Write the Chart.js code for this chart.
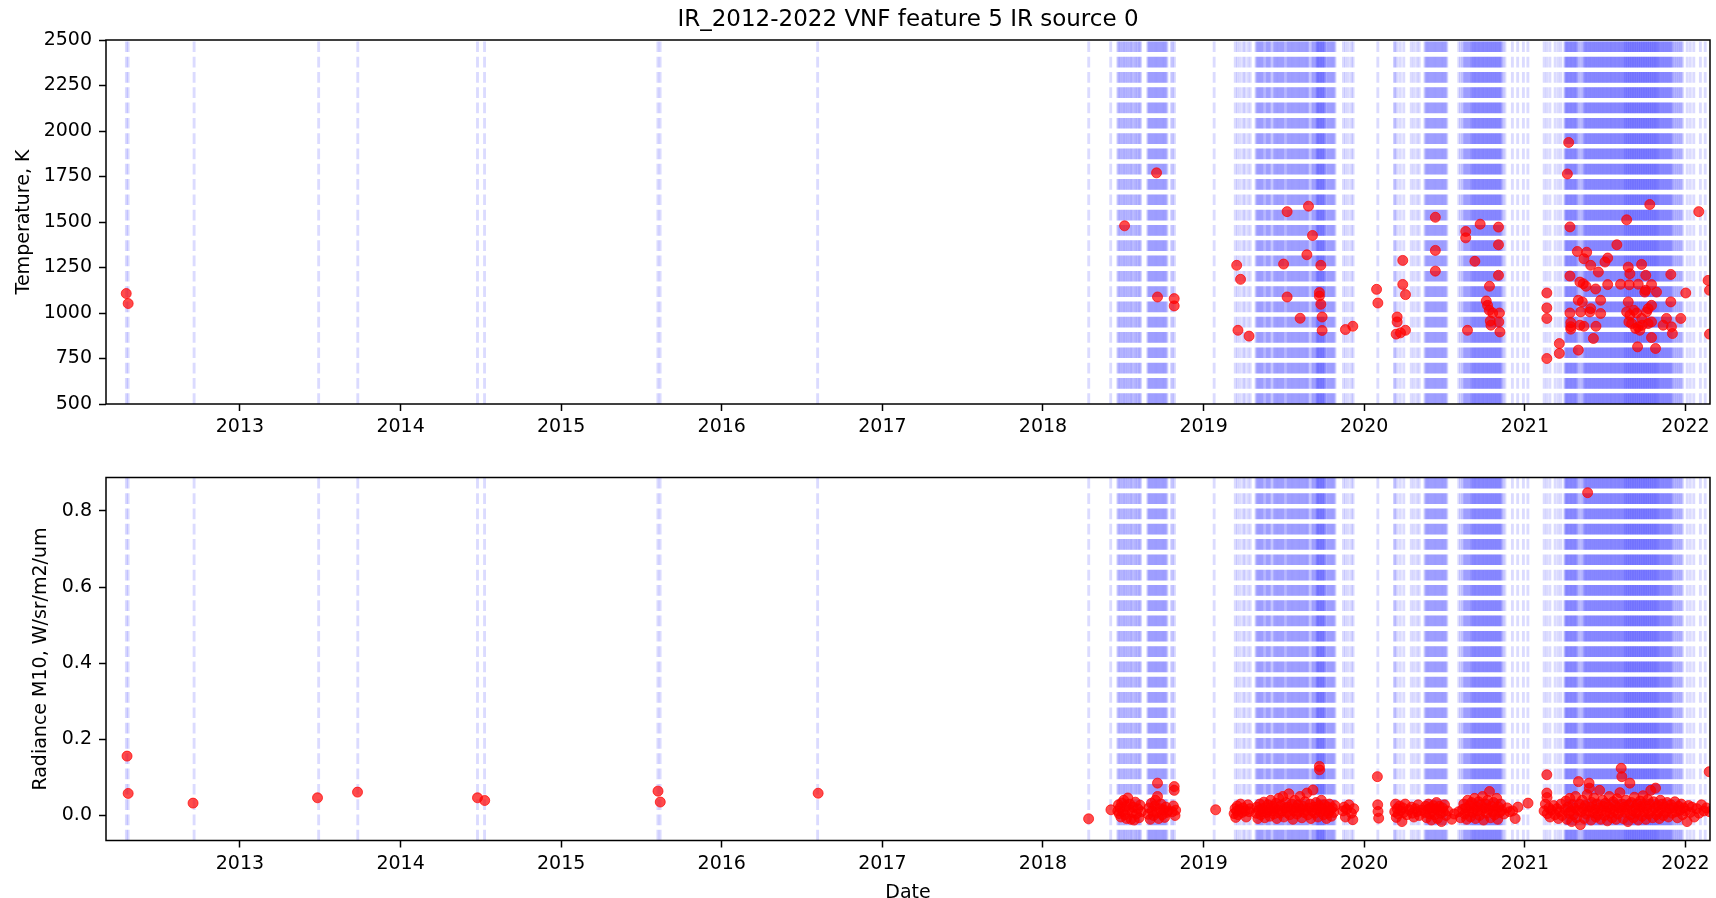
<!DOCTYPE html>
<html><head><meta charset="utf-8">
<script src="https://cdn.jsdelivr.net/npm/chart.js@4.4.0/dist/chart.umd.min.js"></script>
<style>
html,body{margin:0;padding:0;background:#fff;overflow:hidden;}
#wrap{position:relative;width:1716px;height:898px;background:#fff;}
canvas{position:absolute;left:0;}
#c1{top:0;} #c2{top:449px;}
</style></head><body>
<div id="wrap">
<canvas id="c1" width="1716" height="449" style="width:1716px;height:449px"></canvas>
<canvas id="c2" width="1716" height="449" style="width:1716px;height:449px"></canvas>
</div>
<script>
// ---------- tick labels ----------
const yearTicks = [2013, 2014, 2015, 2016, 2017, 2018, 2019, 2020, 2021, 2022];
const tempTicks = [500, 750, 1000, 1250, 1500, 1750, 2000, 2250, 2500];
const radTicks = [0.0, 0.2, 0.4, 0.6, 0.8];
const chartTitle = 'IR_2012-2022 VNF feature 5 IR source 0';

// ---------- observation dates (day of year) drawn as dashed vertical lines ----------
const obsDays2012 = [107, 111, 261];
const obsDays2013 = [179, 268];
const obsDays2014 = [175, 191];
const obsDays2015 = [220, 225];
const obsDays2016 = [218];
const obsDays2018 = [104, 154, 170,172,175,177,180,183,185,188,191,193,196,199,201,204,207,210,212,215,218,220,222,
  238,240,242,244,246,248,250,252,254,256,258,260,262,264,266,268,270,272,274,276,278,280,282, 292,295,299];
const obsDays2019 = [24, 72,77,83,90,94,101,106,
  119,121,123,125,127,129,131,133,135,137,141,143,145,147,149,151,153,158,160,162,164,166,168,170,172,174,176,178,180,182,184,
  188,190,192,194,196,198,200,202,204,206,208,210,212,214,216,218,220,222,224,226,228,230,232,234,236,238,240,
  245,247,249,251,253,255,257,258,259,260,261,263,264,265,266,268,269,270,271,273,274,275,276,
  279,281,283,285,287,289,291,293,295,297,299, 318,323,329,336,340];
const obsDays2020 = [31, 69,70,75,82,90, 107,113,120,125,
  138,140,142,144,146,148,150,152,154,156,158,160,162,164,166,168,170,172,174,176,178,180,182,184,186,188,
  215,219,223, 226,228,230,232,234,236,238,240,242,244,
  245,247,248,250,251,253,254,256,257,259,260,262,263,265,266,268,269,271,272,274,275,277,278,280,281,283,284,286,287,289,290,
  292,293,295,296,298,299,301,302,304,305,307,308,310,311,313, 316,320, 337,349,362];
const obsDays2021 = [7, 44,50,57,69,76,82,
  91,92,94,95,97,98,100,101,103,104,106,107,109,110,112,113,115,116,118,119,122,125,128,131,
  134,135,137,138,140,141,143,144,146,147,149,150,152,153,155,156,158,159,161,162,164,165,167,168,170,171,173,174,176,177,
  179,180,182,183,185,186,188,189,191,192,194,195,197,198,200,201,203,204,206,207,209,210,212,213,215,216,218,219,221,222,224,225,
  227,228,229,230,232,233,234,235,237,238,239,240,242,243,244,245,247,248,249,250,252,253,254,255,257,258,259,260,
  262,263,264,265,267,268,269,270,272,273,274,275,277,278,279,280,282,283,284,285,287,288,289,290,292,293,294,295,
  297,298,299,300,302,303,
  304,306,307,309,310,312,313,315,316,318,319,321,322,324,325,327,328,330,331,333,334,336,339,341,344,346,349,351,354,356,359];
const obsDays2022 = [4, 11, 19, 34, 45];
const obsTable = [[2012, obsDays2012], [2013, obsDays2013], [2014, obsDays2014], [2015, obsDays2015],
  [2016, obsDays2016], [2018, obsDays2018], [2019, obsDays2019], [2020, obsDays2020], [2021, obsDays2021], [2022, obsDays2022]];
const obsDates = [];
obsTable.forEach(([yr, days]) => days.forEach(d => obsDates.push(yr + d / 365.25)));

// ---------- temperature, K (decimal year, value) ----------
const temperature = [
  [2012.292,1107],[2012.304,1052],
  [2018.508,1479],[2018.707,1770],[2018.713,1088],[2018.817,1079],[2018.817,1039],
  [2019.206,1262],[2019.230,1185],[2019.214,905],[2019.283,873],
  [2019.498,1269],[2019.520,1557],[2019.520,1088],[2019.601,971],[2019.643,1320],[2019.653,1587],[2019.678,1426],
  [2019.721,1112],[2019.721,1093],[2019.730,1262],[2019.730,1048],[2019.738,978],[2019.738,904],
  [2019.883,909],[2019.929,927],[2020.077,1130],[2020.085,1055],
  [2020.199,884],[2020.205,978],[2020.205,951],[2020.226,891],[2020.257,905],[2020.240,1289],[2020.240,1157],[2020.257,1101],
  [2020.443,1526],[2020.443,1344],[2020.443,1230],
  [2020.632,1448],[2020.632,1413],[2020.643,905],[2020.689,1284],[2020.722,1488],
  [2020.760,1066],[2020.768,1042],[2020.779,1015],[2020.800,1000],[2020.780,1147],[2020.785,956],[2020.789,933],
  [2020.836,1472],[2020.836,1375],[2020.836,1207],[2020.842,1000],[2020.838,951],[2020.845,896],
  [2021.137,1110],[2021.137,1028],[2021.137,970],[2021.137,750],[2021.215,832],[2021.215,778],
  [2021.265,1764],[2021.273,1937],[2021.281,1473],[2021.281,1203],[2021.281,1000],[2021.286,947],[2021.286,925],[2021.286,911],
  [2021.327,1338],[2021.385,1334],[2021.368,1298],[2021.410,1262],[2021.458,1225],[2021.499,1280],[2021.516,1302],
  [2021.343,1170],[2021.364,1161],[2021.381,1147],[2021.441,1132],[2021.516,1156],
  [2021.333,1070],[2021.358,1061],[2021.472,1070],[2021.410,1024],[2021.405,1006],[2021.472,997],[2021.348,1006],[2021.343,933],
  [2021.368,927],[2021.443,927],[2021.427,860],[2021.333,796],
  [2021.573,1375],[2021.634,1512],[2021.778,1596],
  [2021.596,1158],[2021.650,1155],[2021.644,1252],[2021.654,1216],[2021.727,1267],[2021.753,1207],[2021.706,1158],[2021.789,1156],
  [2021.747,1115],[2021.752,1125],[2021.820,1115],[2021.644,1061],[2021.789,1042],[2021.768,1024],[2021.758,1006],
  [2021.679,1015],[2021.696,1000],[2021.634,1006],[2021.654,988],
  [2021.648,951],[2021.665,942],[2021.706,924],[2021.731,933],[2021.716,905],[2021.728,970],[2021.690,915],
  [2021.768,942],[2021.789,951],[2021.789,865],[2021.702,814],[2021.814,805],
  [2021.909,1212],[2021.909,1061],[2021.882,970],[2021.971,970],[2021.861,933],[2021.913,924],[2021.919,887],
  [2022.002,1110],[2022.083,1557],[2022.141,1179],[2022.150,1125],[2022.150,884]
];

// ---------- radiance M10, W/sr/m2/um (decimal year, value) ----------
const radianceEarly = [
  [2012.297,0.156],[2012.304,0.058],[2012.708,0.0325],[2013.483,0.0465],[2013.732,0.0614],[2014.479,0.0465],
  [2014.524,0.0394],[2015.603,0.064],[2015.617,0.0354],[2016.600,0.0585],[2018.284,-0.0087]
];
const radiance2018 = [
  [2018.423,0.015],[2018.466,0.012],[2018.470,0.028],[2018.474,0.005],[2018.480,0.020],[2018.485,-0.004],[2018.490,0.033],
  [2018.497,0.010],[2018.503,0.040],[2018.510,0.002],[2018.515,0.024],[2018.520,-0.008],[2018.528,0.046],[2018.535,0.015],
  [2018.540,0.030],[2018.548,-0.010],[2018.555,0.008],[2018.560,0.022],[2018.568,-0.012],[2018.575,0.035],[2018.582,0.004],
  [2018.590,0.018],[2018.598,-0.006],[2018.605,0.027],[2018.612,0.010],[2018.655,0.003],[2018.660,0.020],[2018.668,-0.010],
  [2018.675,0.032],[2018.680,0.012],[2018.688,0.000],[2018.695,0.025],[2018.700,0.040],[2018.708,0.008],[2018.713,0.085],
  [2018.713,0.050],[2018.720,-0.008],[2018.728,0.018],[2018.735,0.030],[2018.742,0.002],[2018.750,0.015],[2018.757,-0.005],
  [2018.765,0.022],[2018.772,0.008],[2018.780,0.012],[2018.805,0.010],[2018.812,0.025],[2018.817,0.076],[2018.817,0.066],
  [2018.822,0.000],[2018.826,0.014]
];
const radiance2019 = [
  [2019.075,0.015],[2019.190,0.005],[2019.196,0.018],[2019.200,-0.005],[2019.206,0.012],[2019.210,0.025],[2019.214,0.002],
  [2019.222,0.015],[2019.230,0.030],[2019.240,0.008],[2019.246,0.020],[2019.258,0.012],[2019.265,-0.004],[2019.276,0.028],
  [2019.283,0.010],[2019.289,0.018],[2019.326,0.006],[2019.332,0.022],[2019.338,-0.008],[2019.344,0.014],[2019.350,0.030],
  [2019.356,0.002],[2019.362,0.018],[2019.368,0.010],[2019.375,0.035],[2019.381,-0.006],[2019.387,0.020],[2019.393,0.008],
  [2019.400,0.028],[2019.406,0.014],[2019.412,-0.002],[2019.418,0.040],[2019.425,0.012],[2019.431,0.024],[2019.437,0.004],
  [2019.444,0.018],[2019.450,0.032],[2019.456,-0.008],[2019.462,0.016],[2019.468,0.045],[2019.475,0.006],[2019.481,0.026],
  [2019.487,0.012],[2019.493,0.050],[2019.500,-0.004],[2019.506,0.020],[2019.512,0.034],[2019.518,0.008],[2019.525,0.022],
  [2019.531,0.057],[2019.537,0.002],[2019.543,0.016],[2019.550,0.030],[2019.556,-0.010],[2019.562,0.012],[2019.568,0.040],
  [2019.575,0.020],[2019.581,0.004],[2019.587,0.028],[2019.593,0.010],[2019.600,0.050],[2019.606,0.018],[2019.612,-0.006],
  [2019.618,0.024],[2019.625,0.008],[2019.631,0.036],[2019.637,0.014],[2019.643,0.059],[2019.650,0.002],[2019.656,0.020],
  [2019.662,0.030],[2019.668,-0.008],[2019.675,0.012],[2019.681,0.067],[2019.687,0.022],[2019.693,0.006],[2019.700,0.034],
  [2019.706,0.016],[2019.712,-0.004],[2019.718,0.026],[2019.721,0.129],[2019.722,0.120],[2019.727,0.010],[2019.733,0.040],
  [2019.740,0.018],[2019.746,0.002],[2019.752,0.028],[2019.758,0.012],[2019.765,-0.008],[2019.771,0.022],[2019.777,0.006],
  [2019.783,0.030],[2019.790,0.014],[2019.796,-0.002],[2019.802,0.020],[2019.810,0.008],[2019.818,0.026],[2019.868,0.012],
  [2019.875,0.022],[2019.883,-0.004],[2019.890,0.016],[2019.905,0.028],[2019.920,0.006],[2019.929,-0.011],[2019.935,0.018]
];
const radiance2020 = [
  [2020.082,0.102],[2020.084,0.028],[2020.086,0.0105],[2020.090,-0.007],[2020.190,0.010],[2020.195,0.030],[2020.200,-0.005],
  [2020.205,0.018],[2020.212,0.004],[2020.220,0.025],[2020.225,0.012],[2020.235,-0.016],[2020.240,0.020],[2020.247,0.008],
  [2020.255,0.030],[2020.265,0.002],[2020.280,0.015],[2020.294,0.022],[2020.300,0.006],[2020.309,-0.004],[2020.318,0.018],
  [2020.329,0.010],[2020.336,0.028],[2020.343,0.000],[2020.355,0.014],[2020.377,0.008],[2020.383,0.024],[2020.389,-0.006],
  [2020.395,0.016],[2020.400,0.030],[2020.406,0.004],[2020.412,0.020],[2020.418,-0.012],[2020.425,0.012],[2020.431,0.026],
  [2020.437,0.002],[2020.444,0.018],[2020.450,0.034],[2020.456,-0.008],[2020.462,0.014],[2020.468,0.024],[2020.475,0.006],
  [2020.481,-0.016],[2020.487,0.020],[2020.493,0.010],[2020.500,0.028],[2020.510,0.000],[2020.520,0.012],[2020.545,-0.010],
  [2020.560,0.004],[2020.588,0.010],[2020.600,-0.006],[2020.613,0.016],[2020.620,0.030],[2020.626,0.004],[2020.632,0.020],
  [2020.638,-0.010],[2020.644,0.040],[2020.650,0.012],[2020.656,0.026],[2020.662,-0.004],[2020.668,0.034],[2020.675,0.008],
  [2020.681,0.018],[2020.687,0.045],[2020.693,-0.008],[2020.700,0.022],[2020.706,0.012],[2020.712,0.036],[2020.718,0.000],
  [2020.725,0.028],[2020.731,0.014],[2020.737,0.050],[2020.743,-0.012],[2020.750,0.020],[2020.756,0.030],[2020.762,0.006],
  [2020.768,0.040],[2020.775,0.016],[2020.780,0.063],[2020.787,-0.006],[2020.793,0.024],[2020.800,0.010],[2020.806,0.034],
  [2020.812,0.002],[2020.818,0.018],[2020.825,0.045],[2020.831,-0.010],[2020.837,0.022],[2020.843,0.008],[2020.850,0.030],
  [2020.856,0.014],[2020.870,0.004],[2020.890,0.020],[2020.905,0.010],[2020.924,0.012],[2020.940,-0.008],[2020.957,0.022],
  [2021.020,0.0325]
];
const radiance2021 = [
  [2021.120,0.012],[2021.128,0.030],[2021.137,0.107],[2021.137,0.059],[2021.138,0.047],[2021.140,0.005],[2021.150,0.020],
  [2021.157,-0.004],[2021.165,0.014],[2021.180,0.026],[2021.188,0.002],[2021.200,0.018],[2021.209,-0.008],[2021.215,0.010],
  [2021.225,0.030],[2021.232,0.000],[2021.250,0.016],[2021.256,0.038],[2021.262,-0.010],[2021.268,0.022],[2021.274,0.006],
  [2021.280,0.045],[2021.286,0.012],[2021.292,-0.016],[2021.298,0.028],[2021.304,0.002],[2021.310,0.020],[2021.316,0.050],
  [2021.322,-0.006],[2021.328,0.014],[2021.334,0.089],[2021.340,0.030],[2021.346,-0.024],[2021.352,0.010],[2021.358,0.040],
  [2021.364,0.018],[2021.370,-0.008],[2021.376,0.026],[2021.382,0.004],[2021.388,0.055],[2021.391,0.848],[2021.394,0.012],
  [2021.400,0.085],[2021.402,0.072],[2021.406,0.022],[2021.412,-0.012],[2021.418,0.034],[2021.424,0.008],[2021.430,0.046],
  [2021.436,0.016],[2021.442,-0.004],[2021.448,0.030],[2021.454,0.002],[2021.460,0.020],[2021.466,0.066],[2021.472,-0.010],
  [2021.478,0.014],[2021.484,0.040],[2021.490,0.024],[2021.496,0.000],[2021.502,0.032],[2021.508,0.010],[2021.514,-0.014],
  [2021.520,0.022],[2021.526,0.050],[2021.532,0.006],[2021.538,0.018],[2021.544,-0.006],[2021.550,0.036],[2021.556,0.012],
  [2021.562,0.026],[2021.568,-0.010],[2021.574,0.044],[2021.580,0.004],[2021.586,0.020],[2021.592,0.060],[2021.598,0.014],
  [2021.600,0.124],[2021.604,0.102],[2021.606,0.030],[2021.612,-0.008],[2021.618,0.022],[2021.624,0.008],[2021.630,0.040],
  [2021.636,0.016],[2021.642,-0.016],[2021.648,0.028],[2021.654,0.085],[2021.658,0.002],[2021.664,0.034],[2021.670,0.012],
  [2021.676,-0.006],[2021.682,0.048],[2021.688,0.020],[2021.694,0.006],[2021.700,0.030],[2021.706,-0.012],[2021.712,0.014],
  [2021.718,0.038],[2021.724,0.024],[2021.730,-0.002],[2021.736,0.052],[2021.742,0.010],[2021.748,0.026],[2021.754,-0.010],
  [2021.760,0.018],[2021.766,0.042],[2021.772,0.004],[2021.778,0.030],[2021.784,0.066],[2021.790,0.012],[2021.796,-0.006],
  [2021.802,0.036],[2021.808,0.020],[2021.814,0.072],[2021.820,0.002],[2021.826,0.026],[2021.832,0.010],[2021.838,-0.008],
  [2021.844,0.040],[2021.850,0.016],[2021.856,0.030],[2021.862,0.000],[2021.870,0.022],[2021.878,0.008],[2021.886,0.034],
  [2021.894,-0.004],[2021.902,0.018],[2021.910,0.028],[2021.918,0.006],[2021.926,0.020],[2021.934,0.036],[2021.942,0.010],
  [2021.950,-0.006],[2021.958,0.024],[2021.966,0.014],[2021.974,0.030],[2021.982,0.002],[2021.990,0.020],[2022.000,0.012],
  [2022.010,-0.016],[2022.020,0.026],[2022.030,0.008],[2022.040,0.022],[2022.055,-0.004],[2022.070,0.018],[2022.085,0.006],
  [2022.100,0.028],[2022.115,0.012],[2022.130,0.020],[2022.148,0.115],[2022.150,0.010]
];

// ---------- rendering ----------
const X_MIN = 2012.166, X_MAX = 2022.153;
const FONT = "'DejaVu Sans', 'Liberation Sans', sans-serif";
Chart.defaults.font.family = FONT;
Chart.defaults.font.size = 19;
Chart.defaults.color = '#000';

const obsLinesPlugin = {
  id: 'obsLines',
  beforeDatasetsDraw(chart) {
    const {ctx, chartArea: a, scales: {x}} = chart;
    ctx.save();
    ctx.beginPath(); ctx.rect(a.left, a.top, a.right - a.left, a.bottom - a.top); ctx.clip();
    ctx.lineWidth = 2.9;
    ctx.setLineDash([10.7, 4.6]);
    ctx.strokeStyle = 'rgba(0,0,255,0.14)';
    for (const d of obsDates) {
      const px = x.getPixelForValue(d);
      ctx.beginPath(); ctx.moveTo(px, a.bottom); ctx.lineTo(px, a.top); ctx.stroke();
    }
    ctx.restore();
  }
};
const framePlugin = {
  id: 'frame',
  afterDatasetsDraw(chart) {
    const {ctx, chartArea: a} = chart;
    ctx.save(); ctx.strokeStyle = '#000'; ctx.lineWidth = 1.5; ctx.setLineDash([]);
    ctx.strokeRect(a.left, a.top, a.right - a.left, a.bottom - a.top);
    ctx.restore();
  }
};

const tickGrid = {display: true, drawOnChartArea: false, drawTicks: true, tickLength: 7, tickWidth: 1.5, tickColor: '#000', color: '#000'};

function makeX(height, withTitle) {
  return {
    type: 'linear', position: 'bottom', min: X_MIN, max: X_MAX,
    afterBuildTicks: s => { s.ticks = yearTicks.map(v => ({value: v})); },
    afterFit: s => { s.height = height; },
    ticks: {callback: v => String(v), padding: 5, maxRotation: 0, autoSkip: false, color: '#000', font: {size: 19}},
    grid: tickGrid, border: {display: false},
    title: withTitle ? {display: true, text: 'Date', color: '#000', font: {size: 19, lineHeight: 1}, padding: {top: 0, bottom: -4.5}} : {display: false}
  };
}
function makeY(min, max, ticks, fmt, label, titlePad) {
  return {
    type: 'linear', position: 'left', min: min, max: max,
    afterBuildTicks: s => { s.ticks = ticks.map(v => ({value: v})); },
    afterFit: s => { s.width = 106; },
    ticks: {callback: fmt, padding: 7, color: '#000', font: {size: 19}},
    grid: tickGrid, border: {display: false},
    title: {display: true, text: label, color: '#000', font: {size: 19, lineHeight: 1.2}, padding: {top: titlePad, bottom: 0}}
  };
}
const pointStyle = {
  type: 'scatter', pointRadius: 5, pointHoverRadius: 5, pointBorderWidth: 1,
  backgroundColor: 'rgba(255,0,0,0.7)', borderColor: 'rgba(255,0,0,0.7)', clip: 0
};
const toXY = arr => arr.map(([x, y]) => ({x, y}));

new Chart(document.getElementById('c1'), {
  type: 'scatter',
  data: {datasets: [Object.assign({label: 'Temperature', data: toXY(temperature)}, pointStyle)]},
  options: {
    responsive: false, animation: false, devicePixelRatio: 1,
    layout: {padding: {left: 0, right: 2, top: 0, bottom: 0}},
    plugins: {
      legend: {display: false}, tooltip: {enabled: false},
      title: {display: true, text: chartTitle, fullSize: false, color: '#000',
        font: {size: 23, weight: 'normal', lineHeight: 1.2}, padding: {top: 6.5, bottom: 5.9}}
    },
    scales: {
      x: makeX(45, false),
      y: makeY(500, 2500, tempTicks, v => String(v), 'Temperature, K', 12.6)
    }
  },
  plugins: [obsLinesPlugin, framePlugin]
});

const radianceAll = [].concat(radianceEarly, radiance2018, radiance2019, radiance2020, radiance2021);
new Chart(document.getElementById('c2'), {
  type: 'scatter',
  data: {datasets: [Object.assign({label: 'Radiance', data: toXY(radianceAll)}, pointStyle)]},
  options: {
    responsive: false, animation: false, devicePixelRatio: 1,
    layout: {padding: {left: 0, right: 2, top: 28.5, bottom: 0}},
    plugins: {legend: {display: false}, tooltip: {enabled: false}},
    scales: {
      x: makeX(57.5, true),
      y: makeY(-0.0657, 0.888, radTicks, v => Number(v).toFixed(1), 'Radiance M10, W/sr/m2/um', 29.6)
    }
  },
  plugins: [obsLinesPlugin, framePlugin]
});
</script>
</body></html>
